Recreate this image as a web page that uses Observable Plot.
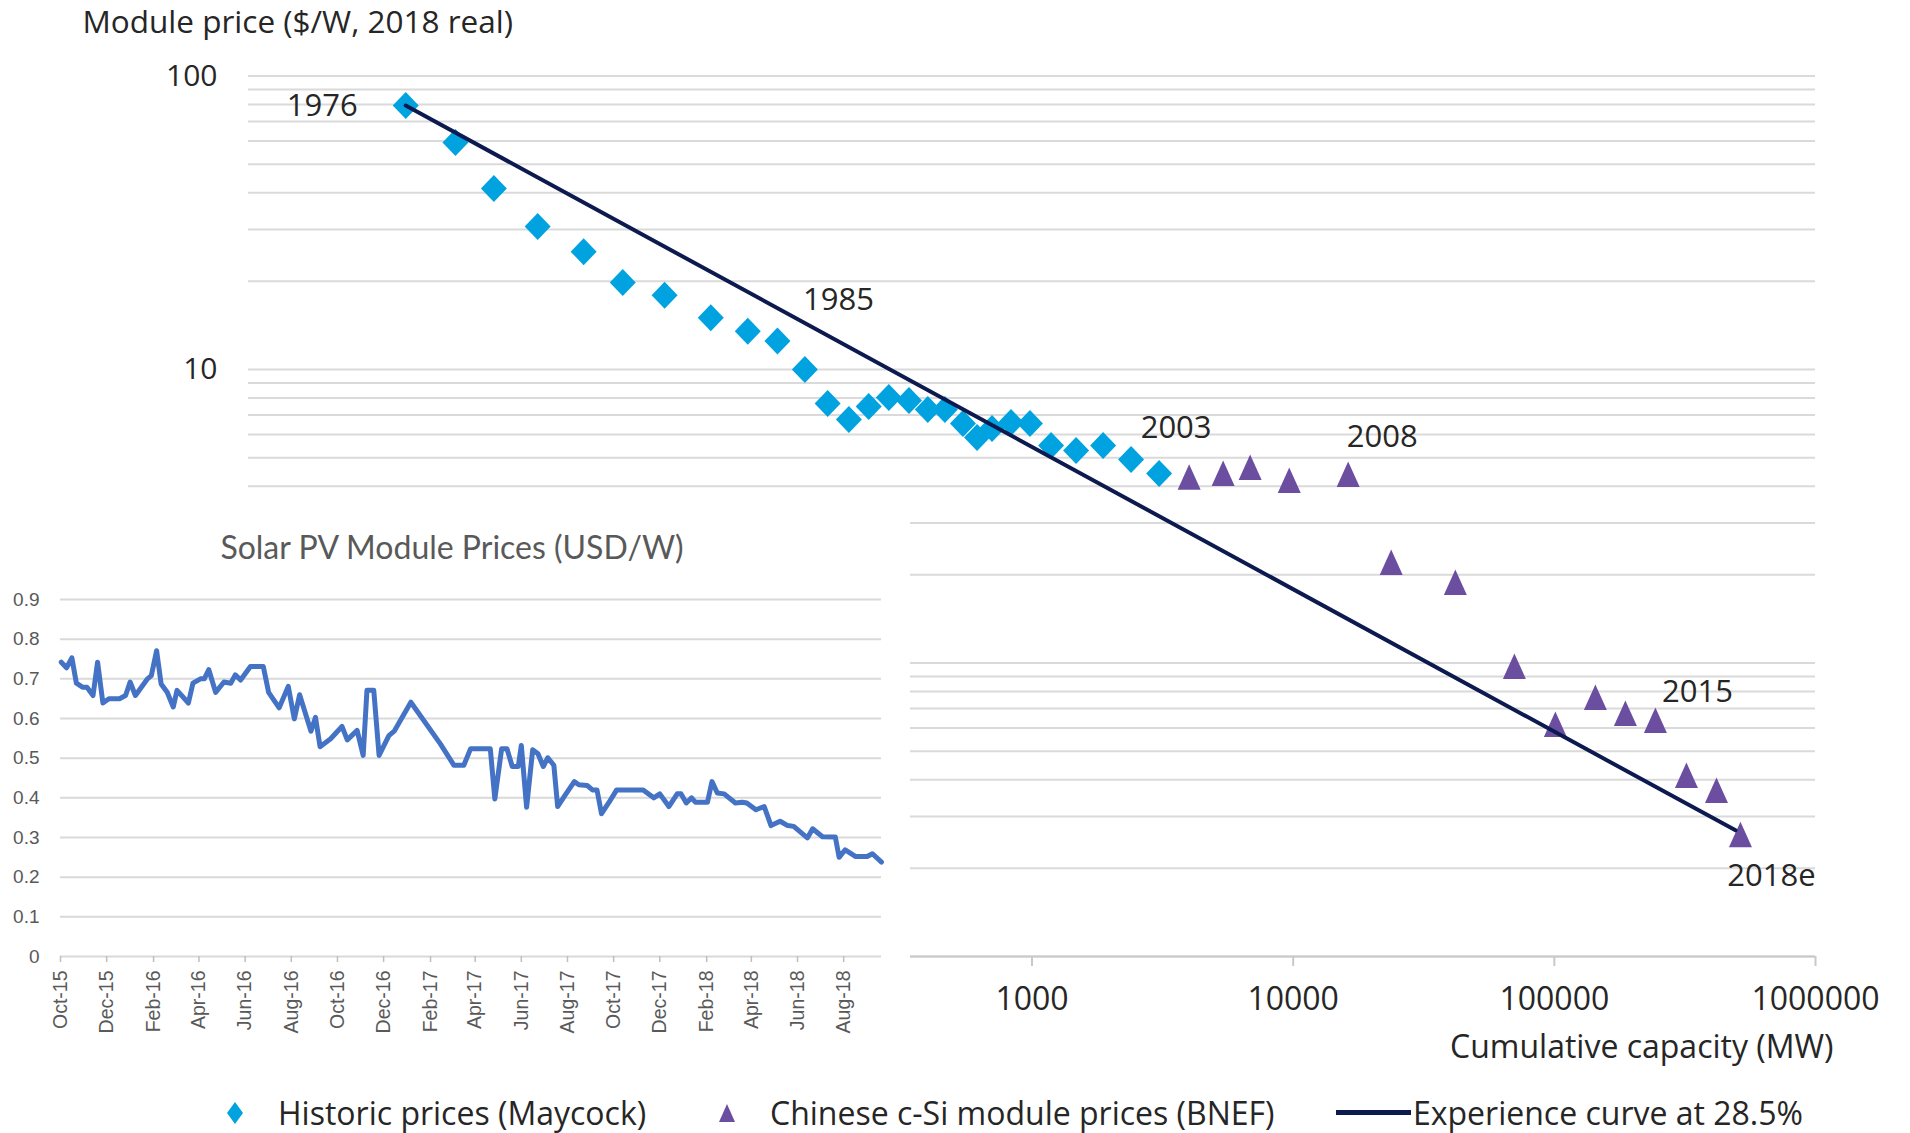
<!DOCTYPE html>
<html>
<head>
<meta charset="utf-8">
<script src="https://cdn.jsdelivr.net/npm/d3@7"></script>
<script src="https://cdn.jsdelivr.net/npm/@observablehq/plot@0.6"></script>
<style>
html, body { margin: 0; padding: 0; background: #fff; }
#wrap { position: relative; width: 1910px; height: 1133px; overflow: hidden; font-family: 'Open Sans', Lato, sans-serif; }
#main { position: absolute; left: 0; top: 0; }
#inset { position: absolute; left: 0; top: 500px; background: #fff; }
#legend { position: absolute; left: 0; top: 1092px; width: 1910px; height: 41px; font-size: 32px; color: #262626; }
.li { position: absolute; top: 0; height: 41px; display: flex; align-items: center; white-space: nowrap; }
</style>
</head>
<body>
<div id="wrap"><div id="main"></div><div id="inset"></div><div id="legend"></div></div>
<script>
// ---------- Main chart data (experience curve) ----------
const maycockYears = [1976,1977,1978,1979,1980,1981,1982,1983,1984,1985,1986,1987,1988,1989,1990,1991,1992,1993,1994,1995,1996,1997,1998,1999,2000,2001,2002,2003];
const maycockCapacity = [4.0,6.2,8.7,12.8,19.2,27.1,39.2,58.9,81.6,106,135,165,199,237,283,338,399,464,544,616,703,831,982,1183,1475,1872,2395,3067];
const maycockPrice = [79.3,59.3,41.4,30.7,25.2,19.8,17.9,15.0,13.5,12.5,10.0,7.66,6.75,7.48,8.03,7.84,7.31,7.31,6.55,5.87,6.29,6.60,6.55,5.51,5.30,5.51,4.94,4.42];

const bnefYears = [2004,2005,2006,2007,2008,2009,2010,2011,2012,2013,2014,2015,2016,2017,2018];
const bnefCapacity = [3997,5393,6843,9660,16240,23730,41780,70320,100900,143600,187100,243800,320500,417700,516000];
const bnefPrice = [4.29,4.42,4.64,4.19,4.39,2.20,1.88,0.973,0.617,0.763,0.673,0.637,0.414,0.368,0.260];

const curveCapacity = [4.0, 494000];
const curvePrice = [79.3, 0.269];

const yearLabels = ["1976","1985","2003","2008","2015","2018e"];
const yearLabelYears = [1976,1985,2003,2008,2015,2018];

const mainYTicks = [10, 100];
const mainXTicks = [1000, 10000, 100000, 1000000];
const mainTitle = "Module price ($/W, 2018 real)";
const mainXLabel = "Cumulative capacity (MW)";

const legendLabels = ["Historic prices (Maycock)", "Chinese c-Si module prices (BNEF)", "Experience curve at 28.5%"];

// ---------- Inset chart data (Solar PV module prices) ----------
const insetTitle = "Solar PV Module Prices (USD/W)";
const insetDates = [
"2015-10-02","2015-10-09","2015-10-16","2015-10-22","2015-10-30","2015-11-05","2015-11-13","2015-11-19","2015-11-26","2015-12-04",
"2015-12-18","2015-12-26","2016-01-01","2016-01-08","2016-01-24","2016-01-29","2016-02-05","2016-02-11","2016-02-19","2016-02-27",
"2016-03-03","2016-03-18","2016-03-24","2016-04-03","2016-04-08","2016-04-14","2016-04-23","2016-05-04","2016-05-13","2016-05-19",
"2016-05-26","2016-06-08","2016-06-25","2016-07-02","2016-07-16","2016-07-28","2016-08-05","2016-08-12","2016-08-27","2016-09-02",
"2016-09-08","2016-09-22","2016-10-07","2016-10-14","2016-10-27","2016-11-04","2016-11-09","2016-11-18","2016-11-25","2016-12-08",
"2016-12-15","2017-01-06","2017-02-14","2017-03-04","2017-03-17","2017-03-26","2017-04-21","2017-04-27","2017-05-06","2017-05-13",
"2017-05-20","2017-05-28","2017-06-01","2017-06-08","2017-06-16","2017-06-23","2017-06-30","2017-07-06","2017-07-14","2017-07-19",
"2017-07-30","2017-08-10","2017-08-16","2017-08-27","2017-09-03","2017-09-09","2017-09-15","2017-09-25","2017-10-05","2017-11-09",
"2017-11-23","2017-12-01","2017-12-13","2017-12-24","2017-12-29","2018-01-05","2018-01-12","2018-01-17","2018-02-02","2018-02-08",
"2018-02-15","2018-02-24","2018-03-11","2018-03-20","2018-03-26","2018-04-07","2018-04-18","2018-04-27","2018-05-09","2018-05-19",
"2018-05-27","2018-06-14","2018-06-21","2018-07-04","2018-07-21","2018-07-26","2018-08-03","2018-08-17","2018-09-01","2018-09-08",
"2018-09-20"];
const insetPrices = [
0.742,0.728,0.753,0.689,0.679,0.679,0.658,0.742,0.639,0.650,
0.650,0.658,0.692,0.658,0.700,0.708,0.771,0.687,0.666,0.629,
0.671,0.639,0.689,0.700,0.700,0.723,0.666,0.692,0.689,0.710,
0.697,0.731,0.731,0.666,0.627,0.681,0.599,0.660,0.568,0.603,
0.529,0.549,0.580,0.546,0.570,0.507,0.671,0.671,0.507,0.557,
0.568,0.641,0.536,0.482,0.482,0.524,0.524,0.397,0.524,0.524,
0.479,0.479,0.532,0.376,0.521,0.511,0.479,0.501,0.482,0.378,
0.410,0.441,0.433,0.431,0.420,0.420,0.360,0.389,0.420,0.420,
0.400,0.410,0.378,0.410,0.410,0.387,0.400,0.389,0.389,0.441,
0.412,0.410,0.387,0.389,0.387,0.370,0.378,0.330,0.341,0.330,
0.328,0.299,0.322,0.302,0.301,0.250,0.269,0.252,0.252,0.259,
0.238];
const insetYTicks = [0, 0.1, 0.2, 0.3, 0.4, 0.5, 0.6, 0.7, 0.8, 0.9];
const insetXTicks = ["2015-10-01","2015-12-01","2016-02-01","2016-04-01","2016-06-01","2016-08-01","2016-10-01","2016-12-01",
"2017-02-01","2017-04-01","2017-06-01","2017-08-01","2017-10-01","2017-12-01","2018-02-01","2018-04-01","2018-06-01","2018-08-01"];

// ---------- Build tables ----------
const maycock = maycockYears.map((year, i) => ({year, capacity: maycockCapacity[i], price: maycockPrice[i]}));
const bnef = bnefYears.map((year, i) => ({year, capacity: bnefCapacity[i], price: bnefPrice[i]}));
const curve = curveCapacity.map((c, i) => ({capacity: c, price: curvePrice[i]}));
const allPoints = maycock.concat(bnef);
const inset = insetDates.map((d, i) => ({date: new Date(d), price: insetPrices[i]}));

// gridlines at 1..9 x each decade
const gridVals = [];
[0.1, 1, 10].forEach(b => { for (let k = 1; k <= 9; k++) gridVals.push(+(b * k).toPrecision(3)); });
gridVals.push(100);

const mainFont = "'Open Sans', Lato, sans-serif";
const textColor = "#262626";
const blue = "#00a3e0";
const purple = "#6c4ea1";
const navy = "#0d1a4f";

const diamondSymbol = {draw(ctx) { ctx.moveTo(0, -13.5); ctx.lineTo(13, 0); ctx.lineTo(0, 13.5); ctx.lineTo(-13, 0); ctx.closePath(); }};
const triangleSymbol = {draw(ctx) { ctx.moveTo(0, -13); ctx.lineTo(11.5, 12.5); ctx.lineTo(-11.5, 12.5); ctx.closePath(); }};

// label placement offsets (style, px)
const labelStyle = {
  "1976": {dx: -48, dy: 1, anchor: "end"},
  "1985": {dx: 61, dy: -41, anchor: "middle"},
  "2003": {dx: 17, dy: -45, anchor: "middle"},
  "2008": {dx: 34, dy: -37, anchor: "middle"},
  "2015": {dx: 42, dy: -28, anchor: "middle"},
  "2018e": {dx: 31, dy: 41, anchor: "middle"}
};
const labelMarks = yearLabels.map((lab, i) => {
  const p = allPoints.find(d => d.year === yearLabelYears[i]);
  const s = labelStyle[lab];
  return Plot.text([p], {x: "capacity", y: "price", text: () => lab, dx: s.dx, dy: s.dy, textAnchor: s.anchor, fontSize: 31, fill: textColor});
});

const mainPlot = Plot.plot({
  width: 1910,
  height: 1075,
  marginLeft: 248,
  marginRight: 95,
  marginTop: 75.5,
  marginBottom: 119,
  style: {fontFamily: mainFont, background: "transparent", overflow: "visible"},
  x: {type: "log", domain: [1, 1e6]},
  y: {type: "log", domain: [0.1, 100]},
  marks: [
    Plot.ruleY(gridVals, {stroke: "#dadada", strokeWidth: 2}),
    Plot.ruleY([0.1], {stroke: "#c9c9c9", strokeWidth: 2}),
    Plot.axisY(mainYTicks, {tickSize: 0, tickPadding: 31, fontSize: 30, fill: textColor, tickFormat: d3.format("d"), label: null}),
    Plot.axisX(mainXTicks, {tickSize: 10, tickPadding: 21, fontSize: 32, stroke: "#c9c9c9", strokeWidth: 2, fill: textColor, tickFormat: d3.format("d"), label: null}),
    Plot.dot(maycock, {x: "capacity", y: "price", symbol: diamondSymbol, fill: blue, stroke: "none"}),
    Plot.dot(bnef, {x: "capacity", y: "price", symbol: triangleSymbol, fill: purple, stroke: "none"}),
    Plot.line(curve, {x: "capacity", y: "price", stroke: navy, strokeWidth: 4}),
    ...labelMarks,
    Plot.text([mainTitle], {frameAnchor: "top-left", textAnchor: "start", lineAnchor: "middle", dx: -166, dy: -53.5, fontSize: 31.5, fill: textColor}),
    Plot.text([mainXLabel], {frameAnchor: "bottom-right", textAnchor: "end", lineAnchor: "middle", dx: 18, dy: 91, fontSize: 32, fill: textColor})
  ]
});
document.getElementById("main").appendChild(mainPlot);

// ---------- Inset ----------
const insetPlot = Plot.plot({
  width: 910,
  height: 570,
  marginLeft: 60,
  marginRight: 29,
  marginTop: 99,
  marginBottom: 114,
  style: {fontFamily: "'Liberation Sans', Arial, sans-serif", background: "#fff", overflow: "visible"},
  x: {type: "utc", domain: [new Date("2015-10-01"), new Date("2018-09-20")]},
  y: {domain: [0, 0.9]},
  marks: [
    Plot.ruleY(insetYTicks, {stroke: "#d9d9d9", strokeWidth: 2}),
    Plot.axisY(insetYTicks, {tickSize: 0, tickPadding: 21, fontSize: 19, fill: "#595959", tickFormat: d => String(d), label: null}),
    Plot.axisX(insetXTicks.map(d => new Date(d)), {tickSize: 6, tickPadding: 8, tickRotate: -90, fontSize: 19.5, stroke: "#bfbfbf", strokeWidth: 1.5, fill: "#595959", tickFormat: d3.utcFormat("%b-%y"), label: null}),
    Plot.line(inset, {x: "date", y: "price", stroke: "#4472c4", strokeWidth: 5, strokeLinejoin: "round"}),
    Plot.text([insetTitle], {frameAnchor: "top", lineAnchor: "middle", dx: -19, dy: -51, fontSize: 32, fill: "#595959", fontFamily: "Lato, 'Open Sans', sans-serif"})
  ]
});
document.getElementById("inset").appendChild(insetPlot);

// ---------- Legend ----------
const legend = document.getElementById("legend");
function addItem(left, html) {
  const el = document.createElement("div");
  el.className = "li";
  el.style.left = left + "px";
  el.innerHTML = html;
  legend.appendChild(el);
}
addItem(226, `<svg width="18" height="24"><polygon points="9,1 17,12 9,23 1,12" fill="${blue}"/></svg>`);
addItem(278, legendLabels[0]);
addItem(718, `<svg width="18" height="22"><polygon points="9,2 17,20 1,20" fill="${purple}"/></svg>`);
addItem(770, legendLabels[1]);
addItem(1336, `<svg width="75" height="10"><rect x="0" y="2" width="75" height="5" fill="${navy}"/></svg>`);
addItem(1413, legendLabels[2]);
</script>
</body>
</html>
